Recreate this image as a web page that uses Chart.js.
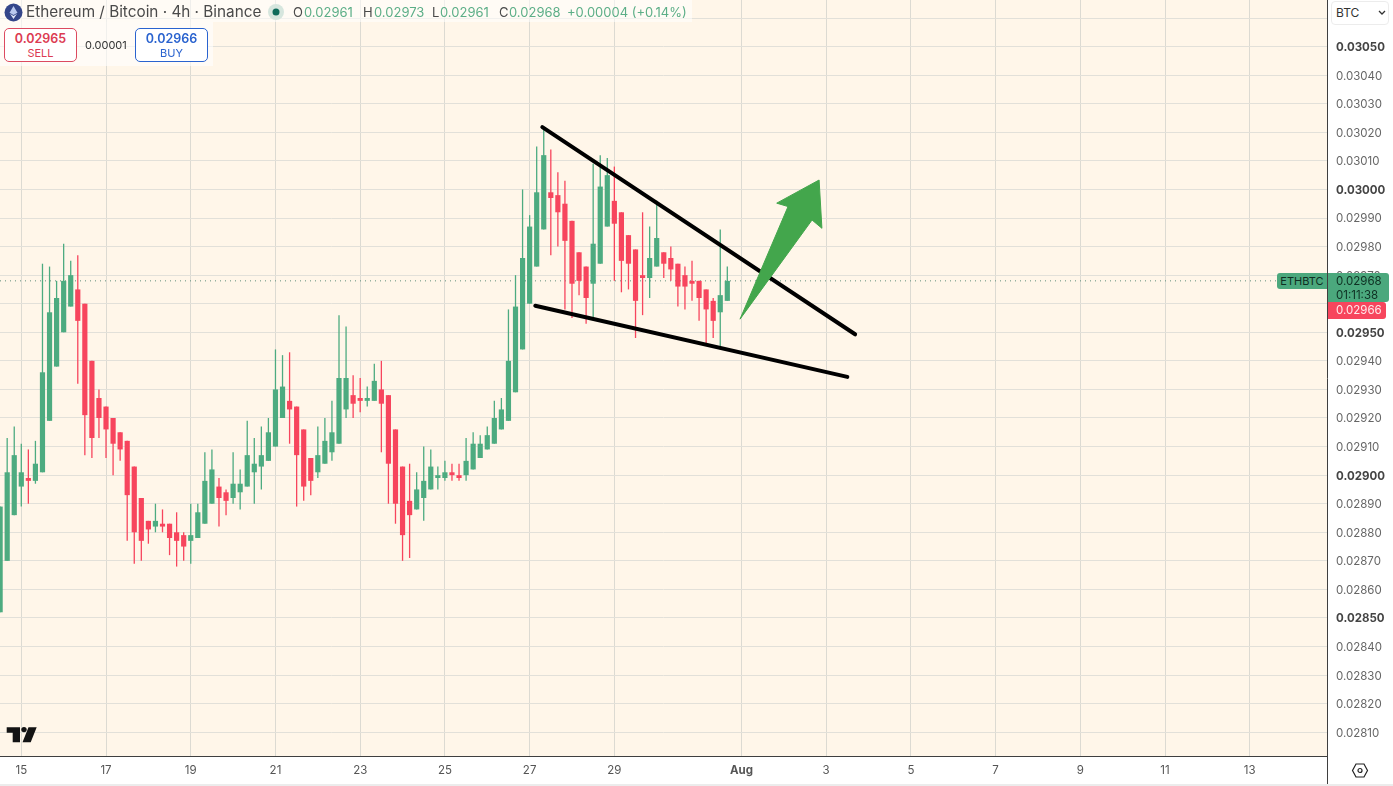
<!DOCTYPE html>
<html>
<head>
<meta charset="utf-8">
<title>ETHBTC 4h</title>
<script src="https://cdn.jsdelivr.net/npm/chart.js@4"></script>
<style>
html, body { margin: 0; padding: 0; background: #fff; overflow: hidden; }
body { width: 1393px; height: 786px; position: relative; font-family: Inter, sans-serif; }
#chart { position: absolute; left: 0; top: 0; }
.o { position: absolute; white-space: nowrap; }
.val { font-size: 13px; line-height: 22px; top: 1px; color: #5cae87; }
.lab { font-size: 13px; line-height: 22px; top: 1px; color: #4a4a4a; }
.box { background: #fff; border-radius: 5px; box-sizing: border-box; width: 73px; height: 34px; top: 28px; border: 1px solid; text-align: center; }
.box b { display: block; font-weight: 600; font-size: 12.5px; line-height: 15px; margin-top: 2px; }
.box span { display: block; font-size: 11px; line-height: 14px; }
</style>
</head>
<body>
<canvas id="chart" width="1393" height="786"></canvas>

<div class="o" style="left:0;top:0;width:692px;height:22px;background:rgba(255,255,255,.55)"></div>
<div class="o" style="left:0;top:22px;width:213px;height:44px;background:rgba(255,255,255,.6)"></div>
<svg class="o" style="left:4px;top:3px" width="19" height="19" viewBox="0 0 19 19">
  <circle cx="9.5" cy="9.5" r="9" fill="#34468a"/>
  <path d="M9.5 3 L13.5 9.7 L9.5 12 L5.5 9.7 Z" fill="#b9c8ee"/>
  <path d="M9.5 12.9 L13 10.8 L9.5 16 L6 10.8 Z" fill="#dfe6f8"/>
</svg>
<div class="o" style="left:26px;top:1px;font-size:15.3px;line-height:22px;color:#4a4a4a">Ethereum / Bitcoin · 4h · Binance</div>
<svg class="o" style="left:267px;top:3px" width="18" height="18"><circle cx="9" cy="9" r="8" fill="#d6e6de"/><circle cx="9" cy="9" r="3.5" fill="#0d6b5a"/></svg>
<div class="o lab" style="left:293px">O</div><div class="o val" style="left:304px" id="hO"></div>
<div class="o lab" style="left:363px">H</div><div class="o val" style="left:374px" id="hH"></div>
<div class="o lab" style="left:432px">L</div><div class="o val" style="left:440px" id="hL"></div>
<div class="o lab" style="left:499px">C</div><div class="o val" style="left:509px" id="hC"></div>
<div class="o val" style="left:567px">+0.00004 (+0.14%)</div>

<div class="o box" style="left:4px;border-color:#dc4a60;color:#dc3b52"><b>0.02965</b><span>SELL</span></div>
<div class="o" style="left:85px;top:38px;font-size:11px;line-height:14px;color:#333">0.00001</div>
<div class="o box" style="left:135px;border-color:#2a63cf;color:#2a63cf"><b>0.02966</b><span>BUY</span></div>

<svg class="o" style="left:4px;top:724px" width="36" height="22" viewBox="0 0 36 22">
  <path d="M2.7 3.3 H16 V18.3 H8.7 V8.7 H2.7 Z M24.5 3.3 H32.7 L26.7 18.3 H18.5 Z" fill="#131313"/>
  <circle cx="20" cy="5.6" r="2.7" fill="#131313"/>
</svg>

<div class="o" style="left:1331px;top:1px;width:58px;height:24px;box-sizing:border-box;border:1px solid #ececec;border-radius:4px;background:#fff;font-size:12px;line-height:22px;padding-left:4px;color:#333">BTC</div>
<svg class="o" style="left:1378px;top:10px" width="8" height="6"><path d="M1 1 L4 4 L7 1" fill="none" stroke="#333" stroke-width="1.3"/></svg>

<div class="o" style="left:1277px;top:273px;width:50px;height:16px;background:#4ba87d;border-radius:3px 0 0 3px;font-size:11px;line-height:16px;text-align:center;color:#0e2f22">ETHBTC</div>
<div class="o" style="left:1328px;top:273px;width:61px;height:29px;background:#4ba87d;border-radius:0 3px 3px 0;font-size:11.5px;line-height:13.5px;padding:2px 0 0 8px;box-sizing:border-box;color:#0e2f22">0.02968<br>01:11:38</div>
<div class="o" style="left:1328px;top:302px;width:58px;height:17px;background:#f7455d;border-radius:0 3px 3px 0;font-size:11.5px;line-height:17px;padding-left:8px;box-sizing:border-box;color:#ffe9ec">0.02966</div>

<div class="o" style="left:1327px;top:756px;width:1px;height:28px;background:#3f3f3f"></div>
<div class="o" style="left:0;top:784px;width:1393px;height:2px;background:#ececec"></div>
<svg class="o" style="left:1351px;top:762px" width="18" height="17" viewBox="0 0 18 17">
  <path d="M5 2 H13 L16.5 8.5 L13 15 H5 L1.5 8.5 Z" fill="none" stroke="#222" stroke-width="1.2"/>
  <circle cx="9" cy="8.5" r="2" fill="none" stroke="#222" stroke-width="1.2"/>
</svg>

<script>
// candles are 4h apart, index 0 is the 15th at 00:00
var firstCandle = -3;
var opens = [
	0.02852,0.02870,0.02886,0.02896,0.02899,0.02898,0.02901,0.02919,0.02938,0.02950,0.02959,0.02965,0.02960,
	0.02940,0.02927,0.02924,0.02920,0.02915,0.02912,0.02903,0.02892,0.02884,0.02882,0.02883,0.02883,0.02880,
	0.02879,0.02877,0.02878,0.02883,0.02890,0.02896,0.02894,0.02892,0.02894,0.02896,0.02901,0.02903,0.02905,
	0.02910,0.02920,0.02926,0.02924,0.02916,0.02906,0.02901,0.02904,0.02908,0.02911,0.02923,0.02928,0.02927,
	0.02926,0.02926,0.02930,0.02928,0.02916,0.02903,0.02891,0.02888,0.02892,0.02895,0.02899,0.02899,0.02901,
	0.02900,0.02900,0.02902,0.02906,0.02909,0.02911,0.02916,0.02919,0.02929,0.02944,0.02960,0.02973,0.02986,
	0.02999,0.02998,0.02995,0.02989,0.02978,0.02973,0.02967,0.02974,0.02987,0.02996,0.02992,0.02984,0.02979,
	0.02970,0.02969,0.02973,0.02978,0.02976,0.02974,0.02970,0.02968,0.02968,0.02965,0.02961,0.02957,0.02961
];
var highs = [
	0.02889,0.02913,0.02917,0.02911,0.02909,0.02912,0.02974,0.02973,0.02968,0.02981,0.02975,0.02977,0.02960,
	0.02940,0.02930,0.02924,0.02920,0.02915,0.02912,0.02903,0.02892,0.02884,0.02890,0.02888,0.02883,0.02887,
	0.02880,0.02890,0.02890,0.02908,0.02909,0.02899,0.02895,0.02908,0.02902,0.02919,0.02913,0.02917,0.02920,
	0.02944,0.02942,0.02943,0.02924,0.02916,0.02906,0.02917,0.02920,0.02926,0.02956,0.02952,0.02935,0.02934,
	0.02931,0.02939,0.02940,0.02928,0.02916,0.02903,0.02904,0.02901,0.02910,0.02909,0.02903,0.02905,0.02904,
	0.02904,0.02913,0.02915,0.02914,0.02917,0.02926,0.02927,0.02958,0.02970,0.03000,0.02991,0.03015,0.03021,
	0.03014,0.03006,0.03003,0.02989,0.02978,0.02973,0.03009,0.03012,0.03011,0.03008,0.02992,0.02984,0.02979,
	0.02992,0.02987,0.02996,0.02978,0.02980,0.02974,0.02973,0.02975,0.02968,0.02965,0.02962,0.02986,0.02973
];
var lows = [
	0.02852,0.02870,0.02886,0.02889,0.02890,0.02897,0.02901,0.02919,0.02938,0.02950,0.02959,0.02932,0.02907,
	0.02906,0.02913,0.02906,0.02900,0.02905,0.02877,0.02869,0.02870,0.02876,0.02880,0.02880,0.02872,0.02868,
	0.02870,0.02869,0.02878,0.02883,0.02890,0.02882,0.02886,0.02890,0.02888,0.02896,0.02890,0.02895,0.02905,
	0.02910,0.02920,0.02911,0.02889,0.02891,0.02893,0.02899,0.02904,0.02905,0.02911,0.02920,0.02920,0.02922,
	0.02924,0.02926,0.02908,0.02890,0.02883,0.02870,0.02871,0.02888,0.02884,0.02895,0.02895,0.02898,0.02898,
	0.02898,0.02898,0.02902,0.02906,0.02909,0.02911,0.02916,0.02919,0.02929,0.02944,0.02960,0.02973,0.02986,
	0.02977,0.02980,0.02958,0.02955,0.02963,0.02953,0.02955,0.02974,0.02987,0.02968,0.02964,0.02965,0.02948,
	0.02956,0.02962,0.02973,0.02969,0.02968,0.02959,0.02958,0.02961,0.02954,0.02946,0.02948,0.02944,0.02961
];
var closes = [
	0.02889,0.02901,0.02907,0.02901,0.02898,0.02904,0.02936,0.02957,0.02962,0.02968,0.02970,0.02954,0.02921,
	0.02913,0.02920,0.02916,0.02911,0.02909,0.02893,0.02880,0.02877,0.02881,0.02884,0.02882,0.02878,0.02877,
	0.02875,0.02879,0.02887,0.02898,0.02902,0.02892,0.02891,0.02897,0.02897,0.02907,0.02904,0.02907,0.02915,
	0.02930,0.02931,0.02923,0.02907,0.02896,0.02898,0.02907,0.02912,0.02915,0.02934,0.02934,0.02925,0.02926,
	0.02927,0.02933,0.02925,0.02904,0.02890,0.02879,0.02886,0.02895,0.02898,0.02903,0.02900,0.02901,0.02900,
	0.02899,0.02905,0.02911,0.02911,0.02914,0.02920,0.02923,0.02940,0.02959,0.02976,0.02987,0.02999,0.03012,
	0.02997,0.02992,0.02982,0.02967,0.02968,0.02962,0.02981,0.03001,0.03005,0.02988,0.02975,0.02974,0.02961,
	0.02969,0.02976,0.02983,0.02974,0.02972,0.02966,0.02966,0.02967,0.02962,0.02958,0.02954,0.02963,0.02968
];

var dayTicks = [0, 12, 24, 36, 48, 60, 72, 84, 102, 114, 126, 138, 150, 162, 174];
var dayLabels = ['15', '17', '19', '21', '23', '25', '27', '29', 'Aug', '3', '5', '7', '9', '11', '13'];
var priceTicks = [
	0.0281, 0.0282, 0.0283, 0.0284, 0.0285, 0.0286, 0.0287, 0.0288, 0.0289, 0.0290, 0.0291, 0.0292, 0.0293,
	0.0294, 0.0295, 0.0296, 0.0297, 0.0298, 0.0299, 0.0300, 0.0301, 0.0302, 0.0303, 0.0304, 0.0305, 0.0306
];
var boldPrices = [0.0285, 0.0290, 0.0295, 0.0300, 0.0305];

// drawings on the chart, in candle index / price
var upperLine = [[73.8, 0.030218], [118.1, 0.029493]];
var lowerLine = [[72.8, 0.029593], [117, 0.029344]];
var arrowShape = [
	[101.8, 0.029546], [108.6, 0.02994], [107, 0.029952], [113, 0.030033],
	[113.4, 0.029864], [112, 0.029893], [101.8, 0.029546]
];

var green = '#4dab80';
var red = '#f7455d';

function pts(list) {
	return list.map(function (p) { return { x: p[0], y: p[1] }; });
}
function candleColor(ctx) {
	var i = ctx.dataIndex;
	return closes[i] >= opens[i] ? green : red;
}

var last = closes.length - 1;
document.getElementById('hO').textContent = opens[last].toFixed(5);
document.getElementById('hH').textContent = highs[last].toFixed(5);
document.getElementById('hL').textContent = lows[last].toFixed(5);
document.getElementById('hC').textContent = closes[last].toFixed(5);

var xMin = -3.017, xMax = 184.94;

var paperBg = {
	id: 'paperBg',
	beforeDraw: function (chart) {
		var a = chart.chartArea;
		chart.ctx.save();
		chart.ctx.fillStyle = '#fff6e9';
		chart.ctx.fillRect(a.left, a.top, a.right - a.left, a.bottom - a.top);
		chart.ctx.restore();
	}
};

new Chart(document.getElementById('chart'), {
	type: 'bar',
	data: {
		datasets: [
			{
				type: 'line', order: 6, borderColor: '#5f8f7a', borderWidth: 1, borderDash: [1, 4],
				pointRadius: 0, data: pts([[xMin, closes[last]], [xMax, closes[last]]])
			},
			{
				order: 5, grouped: false, barThickness: 1.3, inflateAmount: 0, backgroundColor: candleColor,
				data: lows.map(function (v, i) { return { x: i + firstCandle, y: [v, highs[i]] }; })
			},
			{
				order: 4, grouped: false, barThickness: 5.2, inflateAmount: 0, backgroundColor: candleColor,
				data: opens.map(function (v, i) { return { x: i + firstCandle, y: [v, closes[i]] }; })
			},
			{
				type: 'line', order: 3, borderColor: '#000', borderWidth: 4, borderCapStyle: 'round',
				pointRadius: 0, data: pts(upperLine)
			},
			{
				type: 'line', order: 2, borderColor: '#000', borderWidth: 4, borderCapStyle: 'round',
				pointRadius: 0, data: pts(lowerLine)
			},
			{
				type: 'line', order: 1, borderColor: '#43a64c', backgroundColor: '#43a64c', borderWidth: 1,
				borderJoinStyle: 'round', fill: 'shape', pointRadius: 0, data: pts(arrowShape)
			}
		]
	},
	options: {
		responsive: false,
		animation: false,
		layout: { padding: 0 },
		plugins: { legend: { display: false }, tooltip: { enabled: false } },
		scales: {
			x: {
				type: 'linear', min: xMin, max: xMax, offset: false,
				afterBuildTicks: function (scale) {
					scale.ticks = dayTicks.map(function (v) { return { value: v }; });
				},
				afterFit: function (scale) {
					scale.height = 30;
					scale.paddingLeft = 0;
					scale.paddingRight = 0;
				},
				grid: { color: '#dcdad2', offset: false, drawTicks: false },
				border: { color: '#3f3f3f', width: 1 },
				ticks: {
					autoSkip: false, maxRotation: 0, padding: 8, color: '#555',
					font: function (ctx) {
						var bold = ctx.tick && dayLabels[dayTicks.indexOf(ctx.tick.value)] === 'Aug';
						return { family: 'Inter', size: 11.5, weight: bold ? '700' : '400' };
					},
					callback: function (v) { return dayLabels[dayTicks.indexOf(v)]; }
				}
			},
			y: {
				type: 'linear', position: 'right', min: 0.028017, max: 0.030663,
				afterBuildTicks: function (scale) {
					scale.ticks = priceTicks.map(function (v) { return { value: v }; });
				},
				afterFit: function (scale) {
					scale.width = 66;
					scale.paddingTop = 0;
					scale.paddingBottom = 0;
				},
				grid: { color: '#e2e0d9', drawTicks: false },
				border: { color: '#3f3f3f', width: 1 },
				ticks: {
					autoSkip: false, padding: 9, labelOffset: 1, color: function (ctx) {
						return boldPrices.indexOf(ctx.tick.value) >= 0 ? '#444' : '#666';
					},
					font: function (ctx) {
						var bold = ctx.tick && boldPrices.indexOf(ctx.tick.value) >= 0;
						return { family: 'Inter', size: 11.5, weight: bold ? '700' : '400' };
					},
					callback: function (v) { return v.toFixed(5); }
				}
			}
		}
	},
	plugins: [paperBg]
});
</script>
</body>
</html>
